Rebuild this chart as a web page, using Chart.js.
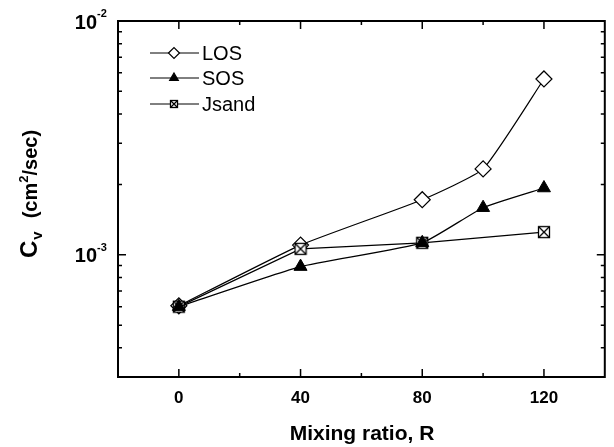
<!DOCTYPE html>
<html>
<head>
<meta charset="utf-8">
<script src="https://cdn.jsdelivr.net/npm/chart.js@4"></script>
<style>
  html, body { margin: 0; padding: 0; background: #fff; }
  canvas { display: block; }
</style>
</head>
<body>
<canvas id="cvChart" width="614" height="447"></canvas>
<script>
// data
const mixingRatio = [0, 40, 80, 100, 120];
const losValues = [6.05e-4, 1.10e-3, 1.72e-3, 2.33e-3, 5.65e-3];
const sosValues = [6.0e-4, 8.9e-4, 1.125e-3, 1.59e-3, 1.93e-3];
const jsandValues = [6.0e-4, 1.06e-3, 1.125e-3, null, 1.25e-3];
const seriesNames = ["LOS", "SOS", "Jsand"];
const xTickLabels = ["0", "40", "80", "120"];
const xMinorTicks = [20, 60, 100];
const yMajorTicks = [1e-2, 1e-3];
const yTickLabels = ["-2", "-3"];
const yMinorTicks = [4e-4, 5e-4, 6e-4, 7e-4, 8e-4, 9e-4, 2e-3, 3e-3, 4e-3, 5e-3, 6e-3, 7e-3, 8e-3, 9e-3];

// square with a cross, for Jsand
function crossBox(size) {
  const c = document.createElement("canvas");
  c.width = size; c.height = size;
  const g = c.getContext("2d");
  const m = 1;
  g.fillStyle = "#fff";
  g.fillRect(m, m, size - 2 * m, size - 2 * m);
  g.strokeStyle = "#000";
  g.lineWidth = 1.3;
  g.strokeRect(m + 0.5, m + 0.5, size - 2 * m - 1, size - 2 * m - 1);
  g.beginPath();
  g.moveTo(m + 1, m + 1); g.lineTo(size - m - 1, size - m - 1);
  g.moveTo(size - m - 1, m + 1); g.lineTo(m + 1, size - m - 1);
  g.stroke();
  return c;
}
const jsandMarker = crossBox(14);
const jsandLegendMarker = crossBox(10);

const toPoints = vals => mixingRatio.map((x, i) => ({ x: x, y: vals[i] }));

const FONT = "'Liberation Sans', Arial, sans-serif";

// frame, inward ticks, tick labels, axis titles, legend
const decorPlugin = {
  id: "decor",
  afterDatasetsDraw(chart) {
    const ctx = chart.ctx;
    const a = chart.chartArea;
    const xs = chart.scales.x, ys = chart.scales.y;
    ctx.save();
    ctx.strokeStyle = "#000";
    ctx.fillStyle = "#000";

    // ticks
    ctx.lineWidth = 1.5;
    ctx.beginPath();
    const xTick = (v, len) => {
      const px = xs.getPixelForValue(v);
      ctx.moveTo(px, a.bottom); ctx.lineTo(px, a.bottom - len);
      ctx.moveTo(px, a.top); ctx.lineTo(px, a.top + len);
    };
    const yTick = (v, len) => {
      const py = ys.getPixelForValue(v);
      ctx.moveTo(a.left, py); ctx.lineTo(a.left + len, py);
      ctx.moveTo(a.right, py); ctx.lineTo(a.right - len, py);
    };
    xTickLabels.forEach(t => xTick(Number(t), 8));
    xMinorTicks.forEach(v => xTick(v, 4));
    yMajorTicks.forEach(v => yTick(v, 8));
    yMinorTicks.forEach(v => yTick(v, 4));
    ctx.stroke();

    // frame
    ctx.lineWidth = 2;
    ctx.strokeRect(a.left, a.top, a.right - a.left, a.bottom - a.top);

    // x tick labels
    ctx.font = "bold 17px " + FONT;
    ctx.textAlign = "center";
    ctx.textBaseline = "top";
    xTickLabels.forEach(t => {
      ctx.fillText(t, xs.getPixelForValue(Number(t)), a.bottom + 13);
    });

    // y tick labels 10^n
    yMajorTicks.forEach((v, i) => {
      const py = ys.getPixelForValue(v);
      ctx.textBaseline = "middle";
      ctx.textAlign = "right";
      ctx.font = "bold 20px " + FONT;
      ctx.fillText("10", 97, py + 2);
      ctx.textAlign = "left";
      ctx.font = "bold 11px " + FONT;
      ctx.fillText(yTickLabels[i], 97, py - 7);
    });

    // x title
    ctx.font = "bold 21px " + FONT;
    ctx.textAlign = "center";
    ctx.textBaseline = "alphabetic";
    ctx.fillText("Mixing ratio, R", 362, 440);

    // y title, rotated
    ctx.save();
    ctx.translate(37, 258);
    ctx.rotate(-Math.PI / 2);
    ctx.textAlign = "left";
    ctx.textBaseline = "alphabetic";
    let x = 0;
    ctx.font = "bold 24px " + FONT;
    ctx.fillText("C", x, 0); x += ctx.measureText("C").width;
    ctx.font = "bold 15px " + FONT;
    ctx.fillText("v", x + 1, 5); x += ctx.measureText("v").width + 14;
    ctx.font = "bold 20px " + FONT;
    ctx.fillText("(cm", x, 0); x += ctx.measureText("(cm").width;
    ctx.font = "bold 13px " + FONT;
    ctx.fillText("2", x, -9); x += ctx.measureText("2").width;
    ctx.font = "bold 20px " + FONT;
    ctx.fillText("/sec)", x, 0);
    ctx.restore();

    // legend
    const rows = [53, 78, 104];
    ctx.font = "20px " + FONT;
    ctx.textAlign = "left";
    ctx.textBaseline = "middle";
    chart.data.datasets.forEach((ds, i) => {
      const y = rows[i];
      ctx.lineWidth = 1;
      ctx.beginPath();
      ctx.moveTo(150, y); ctx.lineTo(199, y);
      ctx.stroke();
      ctx.fillStyle = ds.pointBackgroundColor;
      ctx.strokeStyle = "#000";
      ctx.lineWidth = 1.2;
      const style = i === 2 ? jsandLegendMarker : ds.pointStyle;
      Chart.helpers.drawPoint(ctx, {
        pointStyle: style,
        radius: i === 0 ? 5.5 : 5,
        rotation: 0,
        borderWidth: 1.2
      }, 174, y);
      ctx.fillStyle = "#000";
      ctx.fillText(seriesNames[i], 202, y + 1);
    });

    ctx.restore();
  }
};

new Chart(document.getElementById("cvChart"), {
  type: "line",
  data: {
    datasets: [
      {
        label: seriesNames[0],
        data: toPoints(losValues),
        order: 3,
        borderColor: "#000",
        borderWidth: 1.2,
        tension: 0.15,
        pointStyle: "rectRot",
        pointRadius: 8,
        pointBackgroundColor: "#fff",
        pointBorderColor: "#000",
        pointBorderWidth: 1.2
      },
      {
        label: seriesNames[1],
        data: toPoints(sosValues),
        order: 1,
        borderColor: "#000",
        borderWidth: 1.2,
        tension: 0.15,
        pointStyle: "triangle",
        pointRadius: 7.5,
        pointBackgroundColor: "#000",
        pointBorderColor: "#000",
        pointBorderWidth: 1
      },
      {
        label: seriesNames[2],
        data: toPoints(jsandValues),
        order: 2,
        borderColor: "#000",
        borderWidth: 1.2,
        tension: 0,
        spanGaps: true,
        pointStyle: jsandMarker,
        pointRadius: 7,
        pointBackgroundColor: "#fff",
        pointBorderColor: "#000"
      }
    ]
  },
  options: {
    responsive: false,
    animation: false,
    devicePixelRatio: 1,
    layout: { padding: { left: 118, top: 21, right: 7, bottom: 70 } },
    plugins: {
      legend: { display: false },
      tooltip: { enabled: false }
    },
    scales: {
      x: { type: "linear", min: -20, max: 140, display: false },
      y: { type: "logarithmic", min: 3e-4, max: 1e-2, display: false }
    }
  },
  plugins: [decorPlugin]
});
</script>
</body>
</html>
